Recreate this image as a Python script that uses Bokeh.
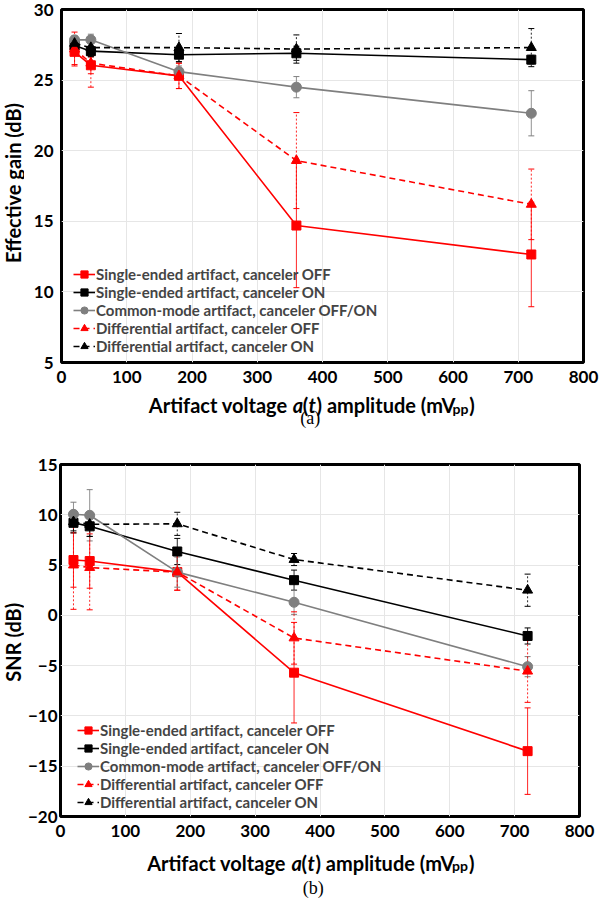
import math
from bokeh.plotting import figure
from bokeh.models import (Range1d, FixedTicker, Legend, LegendItem, Whisker,
                          TeeHead, ColumnDataSource)
from bokeh.layouts import column, row
from bokeh.core.properties import value
from bokeh.embed import file_html
from bokeh.resources import INLINE

# ---------------- data ----------------
amplitude = [20, 45, 180, 360, 720]  # mVpp

series_labels = [
    "Single-ended artifact, canceler OFF",
    "Single-ended artifact, canceler ON",
    "Common-mode artifact, canceler OFF/ON",
    "Differential artifact, canceler OFF",
    "Differential artifact, canceler ON",
]

# (a) effective gain (dB)
gain_se_off = [27.0, 26.05, 25.3, 14.7, 12.65]
gain_se_off_err = [0.9, 0.6, 0.9, 4.4, 3.7]
gain_se_on = [27.45, 27.05, 26.8, 26.9, 26.45]
gain_se_on_err = [0.3, 0.4, 0.5, 0.5, 0.3]
gain_cm = [27.85, 27.85, 25.6, 24.5, 22.65]
gain_cm_err = [0.3, 0.4, 0.4, 0.75, 1.6]
gain_diff_off = [27.2, 26.2, 25.3, 19.3, 16.2]
gain_diff_off_err = [1.2, 1.7, 0.9, 3.4, 2.5]
gain_diff_on = [27.6, 27.3, 27.3, 27.2, 27.3]
gain_diff_on_err = [0.4, 0.6, 1.0, 1.0, 1.35]

# (b) SNR (dB)
snr_se_off = [5.5, 5.4, 4.3, -5.7, -13.5]
snr_se_off_err = [2.7, 2.7, 1.8, 5.0, 4.3]
snr_se_on = [9.2, 8.85, 6.35, 3.5, -2.05]
snr_se_on_err = [1.0, 1.0, 1.3, 1.0, 0.8]
snr_cm = [10.05, 9.95, 4.3, 1.3, -5.1]
snr_cm_err = [1.2, 2.55, 1.5, 1.2, 1.0]
snr_diff_off = [5.0, 4.75, 4.3, -2.25, -5.55]
snr_diff_off_err = [4.4, 4.2, 1.8, 2.6, 3.1]
snr_diff_on = [9.3, 9.05, 9.1, 5.55, 2.5]
snr_diff_on_err = [0.9, 1.2, 1.15, 0.6, 1.6]

x_ticks = [0, 100, 200, 300, 400, 500, 600, 700, 800]
gain_ticks = [5, 10, 15, 20, 25, 30]
snr_ticks = [-20, -15, -10, -5, 0, 5, 10, 15]

# ---------------- style ----------------
FONT = "Lato"
RED = "#FF0000"
BLACK = "#000000"
GRAY = "#7F7F7F"
STYLES = [
    dict(color=RED, marker="square", size=9, dash="solid", edash="solid"),
    dict(color=BLACK, marker="square", size=9, dash="solid", edash="solid"),
    dict(color=GRAY, marker="circle", size=10, dash="solid", edash="solid"),
    dict(color=RED, marker="triangle", size=10, dash="6 4", edash="2 2"),
    dict(color=BLACK, marker="triangle", size=10, dash="6 4", edash="2 2"),
]

W = 600
YL_W = 24  # width of the strip holding the rotated y-axis title


def blank(width, height, xr, yr, left=0, right=0, top=0, bottom=0):
    s = figure(width=width, height=height, output_backend="svg",
               toolbar_location=None, x_range=Range1d(*xr),
               y_range=Range1d(*yr), x_axis_type=None, y_axis_type=None,
               min_border_left=left, min_border_right=right,
               min_border_top=top, min_border_bottom=bottom)
    s.outline_line_color = None
    s.background_fill_color = "white"
    s.border_fill_color = "white"
    s.grid.visible = False
    return s


def make_panel(vals, errs, y0, y1, yticks, height, left, right, top,
               bottom, leg_loc, leg_h, ystand):
    p = figure(width=W - YL_W, height=height, output_backend="svg",
               toolbar_location=None, x_range=Range1d(0, 800),
               y_range=Range1d(y0, y1), min_border_left=left - YL_W,
               min_border_right=right, min_border_top=top,
               min_border_bottom=bottom)
    p.background_fill_color = "white"
    p.border_fill_color = "white"
    p.outline_line_color = "black"
    p.outline_line_width = 3
    for ax in (p.xaxis[0], p.yaxis[0]):
        ax.axis_line_color = None
        ax.major_tick_line_color = None
        ax.minor_tick_line_color = None
        ax.major_tick_out = 0
        ax.major_tick_in = 0
        ax.minor_tick_out = 0
        ax.minor_tick_in = 0
        ax.axis_label_standoff = 0
        ax.major_label_text_font = FONT
        ax.major_label_text_font_style = "bold"
        ax.major_label_text_font_size = "17px"
        ax.major_label_text_color = "black"
    p.xaxis[0].ticker = FixedTicker(ticks=x_ticks)
    p.yaxis[0].ticker = FixedTicker(ticks=yticks)
    p.xaxis[0].major_label_standoff = 8
    p.yaxis[0].major_label_standoff = ystand
    p.xgrid[0].ticker = FixedTicker(ticks=x_ticks)
    p.ygrid[0].ticker = FixedTicker(ticks=yticks)
    p.xgrid.grid_line_color = "#E6E6E6"
    p.ygrid.grid_line_color = "#E6E6E6"

    items = []
    for st, v, e, lab in zip(STYLES, vals, errs, series_labels):
        src = ColumnDataSource(dict(x=amplitude,
                                    upper=[a + b for a, b in zip(v, e)],
                                    lower=[a - b for a, b in zip(v, e)]))
        w = Whisker(source=src, base="x", upper="upper", lower="lower",
                    dimension="height", line_color=st["color"], line_width=1,
                    line_alpha=0.85, line_dash=st["edash"],
                    upper_head=TeeHead(size=6, line_color=st["color"], line_width=1),
                    lower_head=TeeHead(size=6, line_color=st["color"], line_width=1))
        p.add_layout(w)
        lr = p.line(amplitude, v, line_color=st["color"], line_width=1.6,
                    line_dash=st["dash"])
        sr = p.scatter(amplitude, v, marker=st["marker"], size=st["size"],
                       fill_color=st["color"], line_color=st["color"])
        items.append(LegendItem(label=lab, renderers=[lr, sr]))

    leg = Legend(items=items, location=leg_loc, orientation="vertical",
                 label_text_font=FONT, label_text_font_style="bold",
                 label_text_font_size="15px", glyph_width=22,
                 glyph_height=int(round(leg_h)), label_height=int(round(leg_h)),
                 label_standoff=1, spacing=0, padding=0, margin=0,
                 background_fill_alpha=0, border_line_alpha=0)
    p.add_layout(leg)
    return p


def make_ylabel(text, height, top, bottom, center_from_top):
    fh = height - top - bottom
    s = blank(YL_W, height, (0, YL_W), (0, fh), top=top, bottom=bottom)
    s.text(x=[YL_W / 2.0], y=[fh - (center_from_top - top)], text=[text],
           angle=math.pi / 2, text_font=value(FONT), text_font_style="bold",
           text_font_size="20px", text_color="black", text_align="center",
           text_baseline="middle")
    return s


def make_strip(height, left, right, x0, base_y, caption, cap_y):
    s = blank(W, height, (left, W - right), (0, height), left=left,
              right=right)
    pieces = [
        ("Artifact voltage", 0, "bold", "20px", 0),
        ("a", 145, "bold italic", "20px", 0),
        ("(", 155, "bold", "20px", 0),
        ("t", 161, "bold italic", "20px", 0),
        (") amplitude (mV", 169, "bold", "20px", 0),
        ("pp", 306, "bold", "14px", -3),
        (")", 323, "bold", "20px", 0),
    ]
    for txt, off, sty, sz, dy in pieces:
        s.text(x=[x0 + off], y=[base_y + dy], text=[txt],
               text_font=value(FONT), text_font_style=sty,
               text_font_size=sz, text_color="black", text_align="left",
               text_baseline="alphabetic")
    s.text(x=[311.7], y=[cap_y], text=[caption],
           text_font=value("Liberation Serif"), text_font_style="normal",
           text_font_size="18px", text_color="black", text_align="center",
           text_baseline="middle")
    return s


# top panel: frame 61..583 x 9..362 px, strip 386..440
p1 = make_panel([gain_se_off, gain_se_on, gain_cm, gain_diff_off, gain_diff_on],
                [gain_se_off_err, gain_se_on_err, gain_cm_err,
                 gain_diff_off_err, gain_diff_on_err],
                5, 30, gain_ticks, 386, 61, 17, 9, 24, (12, 7), 18.5, 8)
y1 = make_ylabel("Effective gain (dB)", 386, 9, 24, 182.5)
s1 = make_strip(54, 61, 17, 149, 54 - (404.7 - 386), "(a)", 54 - (417 - 386))

# bottom panel: frame 59..579 x 464..816 px, strip 840..898
p2 = make_panel([snr_se_off, snr_se_on, snr_cm, snr_diff_off, snr_diff_on],
                [snr_se_off_err, snr_se_on_err, snr_cm_err,
                 snr_diff_off_err, snr_diff_on_err],
                -20, 15, snr_ticks, 400, 59, 21, 24, 24, (17, 5), 17.7, 3)
y2 = make_ylabel("SNR (dB)", 400, 24, 24, 641.7 - 440)
s2 = make_strip(58, 59, 21, 145, 58 - (862.3 - 840), "(b)", 58 - (887 - 840))

layout = column(row(y1, p1, spacing=0), s1, row(y2, p2, spacing=0), s2,
                spacing=0)
open("out.html", "w").write(file_html(layout, INLINE))
